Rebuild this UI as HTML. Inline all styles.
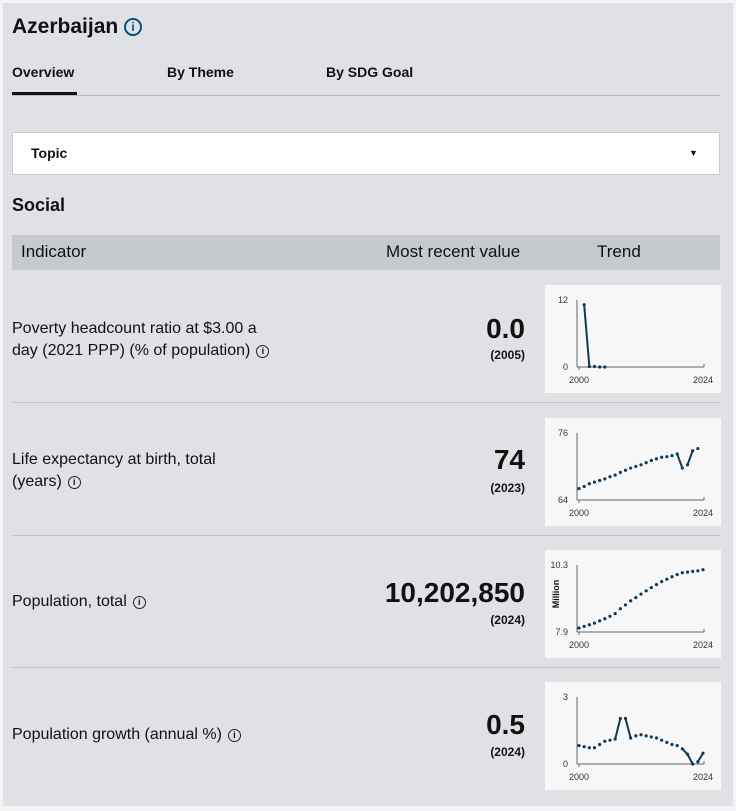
<!DOCTYPE html>
<html><head><meta charset="utf-8"><style>
*{margin:0;padding:0;box-sizing:border-box}
body{width:736px;height:811px;background:#f3f4f6;font-family:"Liberation Sans",sans-serif;color:#111;position:relative;overflow:hidden}
#main{position:absolute;left:3px;top:3px;width:730px;height:803px;background:#dfe1e5}
.a{position:absolute;white-space:nowrap}
.b{font-weight:bold}
.sep{position:absolute;left:12px;width:708px;height:1px;background:#c3c6ca}
.val{position:absolute;right:211px;text-align:right;font-weight:bold}
.info{display:inline-block;width:13px;height:13px;border:1.5px solid #222;border-radius:50%;font-size:9px;line-height:10px;text-align:center;font-weight:bold;vertical-align:1px;margin-left:6px}
</style></head><body>
<div id="main"></div>
<div class="a b" style="left:12px;top:15px;font-size:21px">Azerbaijan <span style="display:inline-block;width:18px;height:18px;border:2px solid #0a4f7a;border-radius:50%;color:#0a4f7a;font-size:12px;line-height:14px;text-align:center;vertical-align:2px">i</span></div>
<div class="a b" style="left:12px;top:64px;font-size:14px">Overview</div>
<div class="a b" style="left:167px;top:64px;font-size:14px">By Theme</div>
<div class="a b" style="left:326px;top:64px;font-size:14px">By SDG Goal</div>
<div class="a" style="left:12px;top:95px;width:708px;height:1px;background:#b8bbbf"></div>
<div class="a" style="left:12px;top:92px;width:65px;height:3px;background:#111"></div>
<div class="a" style="left:12px;top:132px;width:708px;height:43px;background:#fff;border:1px solid #c8cacd"></div>
<div class="a b" style="left:31px;top:145px;font-size:14px">Topic</div>
<div class="a" style="left:689px;top:148px;font-size:9px">▼</div>
<div class="a b" style="left:12px;top:195px;font-size:18px">Social</div>
<div class="a" style="left:12px;top:235px;width:708px;height:35px;background:#c6c9cd"></div>
<div class="a" style="left:21px;top:242px;font-size:17px">Indicator</div>
<div class="a" style="left:386px;top:242px;font-size:17px">Most recent value</div>
<div class="a" style="left:597px;top:242px;font-size:17px">Trend</div>

<div class="a" style="left:12px;top:318px;font-size:16px;line-height:22px">Poverty headcount ratio at $3.00 a<br>day (2021 PPP) (% of population)<span class="info">i</span></div>
<div class="val" style="top:313px;font-size:28px">0.0</div><div class="val" style="top:348px;font-size:12px">(2005)</div>
<div class="sep" style="top:402px"></div>
<div class="a" style="left:12px;top:449px;font-size:16px;line-height:22px">Life expectancy at birth, total<br>(years)<span class="info">i</span></div>
<div class="val" style="top:444px;font-size:28px">74</div><div class="val" style="top:481px;font-size:12px">(2023)</div>
<div class="sep" style="top:535px"></div>
<div class="a" style="left:12px;top:593px;font-size:16px">Population, total<span class="info">i</span></div>
<div class="val" style="top:577px;font-size:28px">10,202,850</div><div class="val" style="top:613px;font-size:12px">(2024)</div>
<div class="sep" style="top:667px"></div>
<div class="a" style="left:12px;top:726px;font-size:16px">Population growth (annual %)<span class="info">i</span></div>
<div class="val" style="top:709px;font-size:28px">0.5</div><div class="val" style="top:745px;font-size:12px">(2024)</div>

<svg id="s" class="a" style="left:0;top:0" width="736" height="811"></svg>
<script>
var charts=[
{T:285,min:0,max:12,lo:"0",hi:"12",d:[null,11.5,0.1,0.1,0,0]},
{T:418,min:64,max:76,lo:"64",hi:"76",d:[66.1,66.5,67,67.3,67.6,67.9,68.3,68.6,69.1,69.5,69.9,70.2,70.5,70.9,71.3,71.6,71.9,72,72.2,72.5,69.9,70.5,73.1,73.5]},
{T:550,min:7.9,max:10.3,lo:"7.9",hi:"10.3",m:1,d:[8.05,8.11,8.17,8.23,8.31,8.39,8.48,8.58,8.76,8.9,9.05,9.17,9.3,9.42,9.54,9.65,9.76,9.85,9.94,10.02,10.09,10.11,10.14,10.16,10.2]},
{T:682,min:0,max:3,lo:"0",hi:"3",d:[0.85,0.8,0.75,0.75,0.9,1.05,1.1,1.15,2.1,2.1,1.2,1.3,1.35,1.3,1.25,1.2,1.1,1.0,0.9,0.85,0.7,0.45,0.0,0.1,0.5]}];
var h='';
charts.forEach(function(c){
var T=c.T,top=T+15,base=T+82;
h+='<rect x="545" y="'+T+'" width="176" height="108" fill="#f7f7f8"/>';
h+='<line x1="577" y1="'+top+'" x2="577" y2="'+base+'" stroke="#666" stroke-width="1"/>';
h+='<line x1="577" y1="'+base+'" x2="704" y2="'+base+'" stroke="#666" stroke-width="1"/>';
h+='<line x1="704" y1="'+(base-3)+'" x2="704" y2="'+base+'" stroke="#666"/><line x1="579" y1="'+base+'" x2="579" y2="'+(base+3)+'" stroke="#666"/>';
h+='<text x="568" y="'+(top+3)+'" font-size="9" text-anchor="end" fill="#333" font-family="Liberation Sans">'+c.hi+'</text>';
h+='<text x="568" y="'+(base+3)+'" font-size="9" text-anchor="end" fill="#333" font-family="Liberation Sans">'+c.lo+'</text>';
h+='<text x="579" y="'+(base+16)+'" font-size="9" text-anchor="middle" fill="#333" font-family="Liberation Sans">2000</text>';
h+='<text x="703" y="'+(base+16)+'" font-size="9" text-anchor="middle" fill="#333" font-family="Liberation Sans">2024</text>';
if(c.m)h+='<text transform="translate(559,'+(T+44)+') rotate(-90)" font-size="9" font-weight="bold" text-anchor="middle" fill="#111" font-family="Liberation Sans">Million</text>';
var pts=[];
c.d.forEach(function(v,i){if(v===null)return;var x=579+i*124/24,y=base-(v-c.min)/(c.max-c.min)*(base-top-2);pts.push([x,y]);});
for(var i=1;i<pts.length;i++){if(Math.abs(pts[i][1]-pts[i-1][1])>5)h+='<line x1="'+pts[i-1][0]+'" y1="'+pts[i-1][1]+'" x2="'+pts[i][0]+'" y2="'+pts[i][1]+'" stroke="#0d3b57" stroke-width="2"/>';}
pts.forEach(function(p){h+='<circle cx="'+p[0]+'" cy="'+p[1]+'" r="1.6" fill="#0d3b57"/>';});
});
document.getElementById('s').innerHTML=h;
</script>
</body></html>
